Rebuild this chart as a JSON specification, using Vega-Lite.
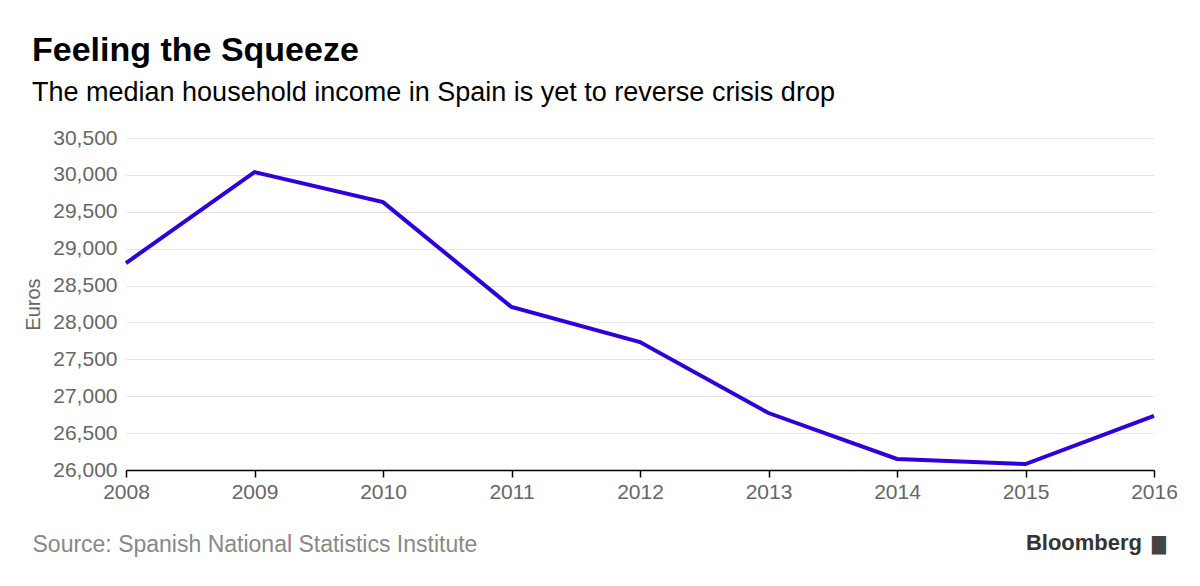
{
  "$schema": "https://vega.github.io/schema/vega-lite/v6.json",
  "autosize": {"type": "none"},
  "width": 1028,
  "height": 332,
  "padding": {"left": 126, "top": 138, "right": 46, "bottom": 116},
  "background": "white",
  "config": {
    "font": "Liberation Sans",
    "view": {"stroke": null}
  },
  "title": {
    "text": "Feeling the Squeeze",
    "subtitle": "The median household income in Spain is yet to reverse crisis drop",
    "anchor": "start",
    "frame": "group",
    "dx": -94,
    "offset": 21,
    "font": "Liberation Sans",
    "fontSize": 34,
    "fontWeight": "bold",
    "color": "#000000",
    "subtitleFont": "Liberation Sans",
    "subtitleFontSize": 27,
    "subtitleColor": "#000000",
    "subtitlePadding": 12
  },
  "data": {
    "values": [
      {"year": 2008, "income": 28805},
      {"year": 2009, "income": 30038},
      {"year": 2010, "income": 29631},
      {"year": 2011, "income": 28209},
      {"year": 2012, "income": 27734},
      {"year": 2013, "income": 26772},
      {"year": 2014, "income": 26149},
      {"year": 2015, "income": 26081},
      {"year": 2016, "income": 26732}
    ]
  },
  "layer": [
    {
      "mark": {"type": "line", "color": "#2f00dc", "strokeWidth": 4, "strokeJoin": "miter"},
      "encoding": {
        "x": {
          "field": "year",
          "type": "quantitative",
          "scale": {"domain": [2008, 2016], "nice": false, "zero": false},
          "axis": {
            "values": [2008, 2009, 2010, 2011, 2012, 2013, 2014, 2015, 2016],
            "tickCount": 20,
            "format": "d",
            "grid": false,
            "labelOverlap": false,
            "domainColor": "#000000",
            "domainWidth": 1.5,
            "tickColor": "#000000",
            "tickWidth": 1.5,
            "tickSize": 7,
            "labelFontSize": 21,
            "labelColor": "#666666",
            "labelPadding": 4,
            "labelFlush": false,
            "title": "Source: Spanish National Statistics Institute",
            "titleFontSize": 23,
            "titleFontWeight": "normal",
            "titleColor": "#888888",
            "titleAnchor": "start",
            "titleAlign": "left",
            "titleX": -94,
            "titleY": 81,
            "titleBaseline": "alphabetic"
          }
        },
        "y": {
          "field": "income",
          "type": "quantitative",
          "scale": {"domain": [26000, 30500], "nice": false, "zero": false},
          "axis": {
            "values": [26000, 26500, 27000, 27500, 28000, 28500, 29000, 29500, 30000, 30500],
            "tickCount": 20,
            "format": ",d",
            "labelOverlap": false,
            "domain": false,
            "ticks": false,
            "gridColor": "#e4e4e4",
            "gridWidth": 1,
            "labelFontSize": 21,
            "labelColor": "#666666",
            "labelPadding": 9,
            "labelFlush": false,
            "title": "Euros",
            "titleFontSize": 20,
            "titleFontWeight": "normal",
            "titleColor": "#666666",
            "titleAngle": -90,
            "titleAlign": "center",
            "titleBaseline": "alphabetic",
            "titleX": -87,
            "titleY": 166
          }
        }
      }
    },
    {
      "data": {"values": [{"year": 2016, "income": 26000, "label": "Bloomberg"}]},
      "mark": {"type": "text", "align": "right", "baseline": "alphabetic", "dx": -12, "dy": 80, "fontSize": 22, "fontWeight": "bold", "color": "#333333"},
      "encoding": {
        "x": {"field": "year", "type": "quantitative"},
        "y": {"field": "income", "type": "quantitative"},
        "text": {"field": "label"}
      }
    },
    {
      "data": {"values": [{"year": 2016, "income": 26000, "label": "▇"}]},
      "mark": {"type": "text", "align": "left", "baseline": "alphabetic", "dx": -2, "dy": 80, "fontSize": 18, "color": "#444444"},
      "encoding": {
        "x": {"field": "year", "type": "quantitative"},
        "y": {"field": "income", "type": "quantitative"},
        "text": {"field": "label"}
      }
    }
  ]
}
